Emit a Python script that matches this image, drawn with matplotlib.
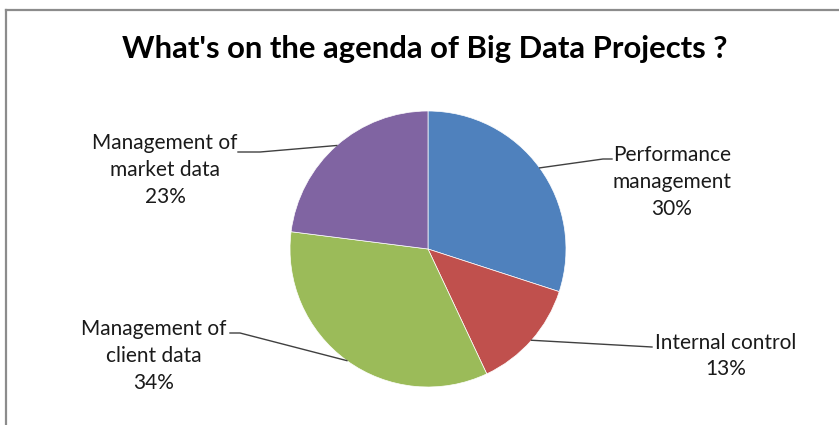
import numpy as np
import matplotlib
matplotlib.use('Agg')
import matplotlib.pyplot as plt

labels = ['Performance\nmanagement', 'Internal control', 'Management of\nclient data', 'Management of\nmarket data']
shares = [30, 13, 34, 23]
colors = ['#4F81BD', '#C0504D', '#9BBB59', '#8064A2']

W, H = 839, 425

def px(x, y):
    # image pixel -> data coords (y up)
    return x, H - y

fig = plt.figure(figsize=(W / 100, H / 100), dpi=100)
ax = fig.add_axes([0, 0, 1, 1])

cx, cy = px(428, 249)
r = 138
wedges, _ = ax.pie(shares, colors=colors, startangle=90, counterclock=False,
                   center=(cx, cy), radius=r, frame=True,
                   wedgeprops=dict(edgecolor='white', linewidth=0.5))
ax.set_xlim(0, W)
ax.set_ylim(0, H)
ax.set_aspect('equal')
ax.axis('off')

# label centres and leader elbows (image px)
text_pos = [(672, 182), (726, 356), (154, 356), (165, 170)]
elbows = [[(603, 159), (612, 159)],
          [(652, 347)],
          [(240, 333), (230, 333)],
          [(260, 152), (238, 152)]]

for w, lab, s, tp, el in zip(wedges, labels, shares, text_pos, elbows):
    mid = np.deg2rad((w.theta1 + w.theta2) / 2)
    x0 = cx + r * np.cos(mid)
    y0 = cy + r * np.sin(mid)
    xs = [x0] + [px(*p)[0] for p in el]
    ys = [y0] + [px(*p)[1] for p in el]
    ax.plot(xs, ys, color='#404040', lw=1)
    ax.text(*px(*tp), f'{lab}\n{s}%', ha='center', va='center',
            fontsize=15, family='Lato', color='#1a1a1a', linespacing=1.42)

ax.text(*px(425, 49), "What's on the agenda of Big Data Projects ?",
        ha='center', va='center', fontsize=22.3, fontweight='bold',
        family='Lato', color='#000000')

# chart frame (only top and left visible)
ax.plot([6, W], [H - 10, H - 10], color='#8c8c8c', lw=1.6, clip_on=False)
ax.plot([6, 6], [0, H - 10], color='#8c8c8c', lw=1.6, clip_on=False)

fig.savefig('out.png', dpi=100)
